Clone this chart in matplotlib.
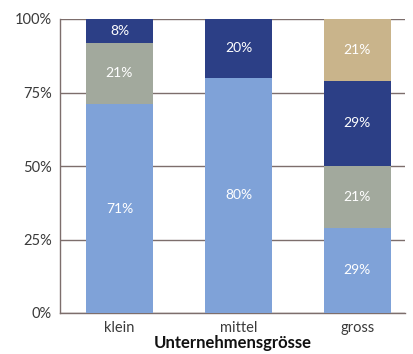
import matplotlib
matplotlib.use("Agg")
import matplotlib.pyplot as plt
import numpy as np

categories = ["klein", "mittel", "gross"]
light_blue = [71, 80, 29]
grey_green = [21, 0, 21]
navy = [8, 20, 29]
tan = [0, 0, 21]
yticks = [0, 25, 50, 75, 100]
ytick_labels = ["0%", "25%", "50%", "75%", "100%"]

series = [light_blue, grey_green, navy, tan]
colors = ["#7fa2d8", "#a2a99d", "#2c3f86", "#c9b48b"]

plt.rcParams["font.family"] = ["Lato", "DejaVu Sans"]

fig = plt.figure(figsize=(4.14, 3.54), dpi=100)
ax = fig.add_axes([60 / 414, 41 / 354, 345 / 414, 294 / 354])

x = np.arange(len(categories))
width = 0.563
bottom = np.zeros(len(categories))
for vals, col in zip(series, colors):
    vals = np.array(vals, dtype=float)
    ax.bar(x, vals, width, bottom=bottom, color=col, zorder=3)
    for xi, v, b in zip(x, vals, bottom):
        if v > 0:
            ax.text(xi, b + v / 2, f"{int(v)}%", ha="center", va="center",
                    color="white", fontsize=10, zorder=4)
    bottom += vals

ax.set_xlim(-0.5, 2.4)
ax.set_ylim(0, 100)
ax.set_yticks(yticks)
ax.set_yticklabels(ytick_labels)
ax.set_xticks(x)
ax.set_xticklabels(categories)
ax.yaxis.grid(True, color="#7d6e6c", linewidth=1.0, zorder=1)
ax.set_axisbelow(True)
ax.tick_params(axis="both", length=0, labelsize=10.5, colors="#3a3a3a")
ax.tick_params(axis="y", pad=6)
ax.tick_params(axis="x", pad=6)
for s in ["top", "right"]:
    ax.spines[s].set_visible(False)
for s in ["left", "bottom"]:
    ax.spines[s].set_color("#7d6e6c")
    ax.spines[s].set_linewidth(1.0)
ax.set_xlabel("Unternehmensgrösse", fontsize=12, fontweight="bold",
              color="#111111", labelpad=0)

fig.savefig("out.png", dpi=100)
